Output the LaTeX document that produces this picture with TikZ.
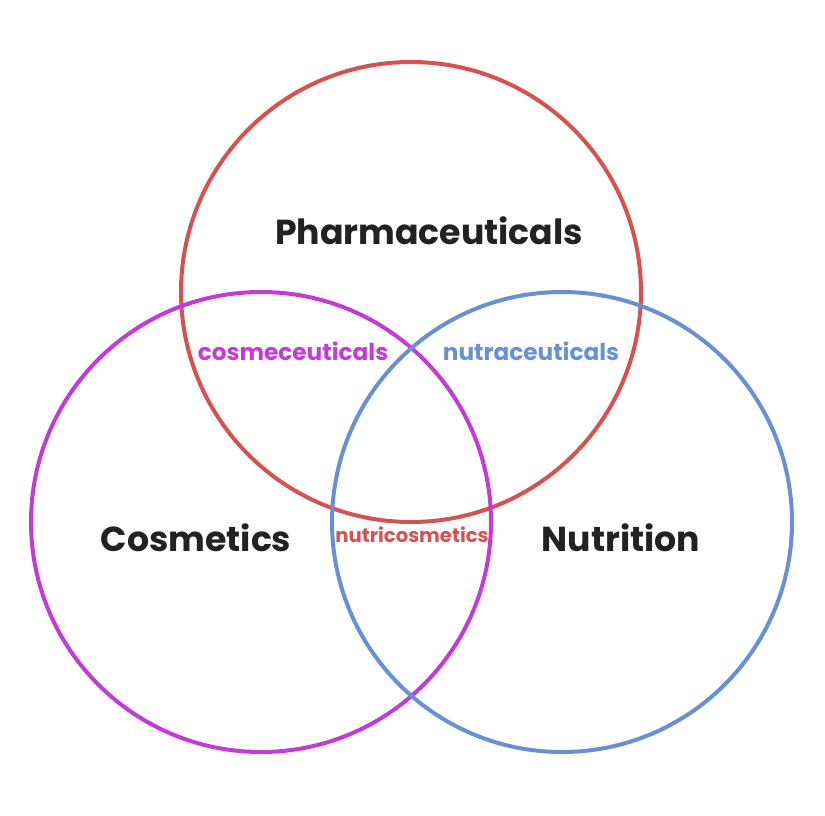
\documentclass[tikz,border=0pt]{standalone}
\usepackage{fontspec}
\setmainfont{Poppins}
\definecolor{cred}{HTML}{D65252}
\definecolor{cmag}{HTML}{C23BD6}
\definecolor{cblu}{HTML}{6A90D4}
\definecolor{ctxt}{HTML}{222222}
\begin{document}
\begin{tikzpicture}[x=1pt,y=-1pt,
  ring/.style={line width=4pt,draw},
  big/.style={font=\fontsize{34.7}{38}\selectfont\bfseries,text=ctxt},
  small/.style={font=\fontsize{23.2}{26}\selectfont\bfseries}]
\useasboundingbox (0,0) rectangle (825,816);
\fill[white] (0,0) rectangle (825,816);
\node[ring,cred,circle,minimum size=460pt,inner sep=0] (ph) at (411,292) {};
\node[ring,cmag,circle,minimum size=460pt,inner sep=0] (co) at (261,522) {};
\node[ring,cblu,circle,minimum size=460pt,inner sep=0] (nu) at (562,522) {};
\node[big] (tph) at (429,231) {Pharmaceuticals};
\node[big] (tco) at (196,538) {Cosmetics};
\node[big] (tnu) at (621,538) {Nutrition};
\node[small,text=cmag] (l1) at (293,351) {cosmeceuticals};
\node[small,text=cblu] (l2) at (531,351) {nutraceuticals};
\node[small,text=cred,font=\fontsize{19.6}{22}\selectfont\bfseries] (l3) at (412,535) {nutricosmetics};
\end{tikzpicture}
\end{document}
